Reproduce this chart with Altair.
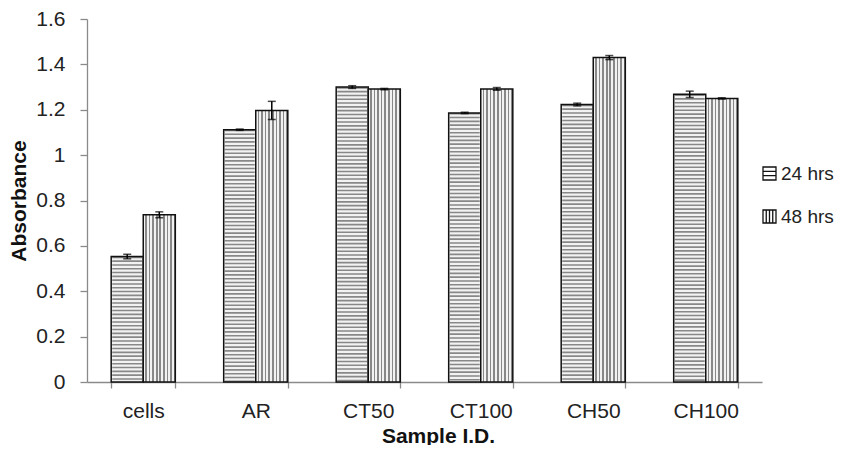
import altair as alt
import pandas as pd

samples = ["cells", "AR", "CT50", "CT100", "CH50", "CH100"]
series = ["24 hrs", "48 hrs"]
abs_24 = [0.553, 1.112, 1.300, 1.186, 1.223, 1.268]
abs_48 = [0.737, 1.197, 1.291, 1.292, 1.430, 1.250]
err_24 = [0.010, 0.003, 0.006, 0.003, 0.006, 0.014]
err_48 = [0.013, 0.040, 0.003, 0.006, 0.009, 0.003]
y_ticks = [0, 0.2, 0.4, 0.6, 0.8, 1.0, 1.2, 1.4, 1.6]

rows = []
for s, a, e in zip(samples, abs_24, err_24):
    rows.append({"sample": s, "series": series[0], "value": a, "err": e})
for s, a, e in zip(samples, abs_48, err_48):
    rows.append({"sample": s, "series": series[1], "value": a, "err": e})
df = pd.DataFrame(rows)

FONT = "Liberation Sans"
LIGHT = "#f2f2f2"
DARK = "#888888"

# vertical stripe gradient for 48 hrs bars
n = 9
stops = []
for i in range(n):
    stops += [
        alt.GradientStop(color=LIGHT, offset=i / n),
        alt.GradientStop(color=LIGHT, offset=(i + 0.55) / n),
        alt.GradientStop(color=DARK, offset=(i + 0.55) / n),
        alt.GradientStop(color=DARK, offset=(i + 1) / n),
    ]
vstripes = alt.LinearGradient(gradient="linear", stops=stops, x1=0, x2=1, y1=0, y2=0)

x_enc = alt.X(
    "sample:N",
    sort=samples,
    scale=alt.Scale(paddingInner=0.43, paddingOuter=0.215),
    axis=alt.Axis(
        title="Sample I.D.",
        labelAngle=0,
        tickBand="extent",
        tickSize=6,
        labelPadding=12,
        titlePadding=4,
        titleX=351,
    ),
)
xoff = alt.XOffset("series:N", scale=alt.Scale(domain=series))
y_enc = alt.Y(
    "value:Q",
    scale=alt.Scale(domain=[0, 1.6], nice=False),
    axis=alt.Axis(
        title="Absorbance",
        values=y_ticks,
        format=".1~f",
        tickSize=7,
        labelPadding=15,
        titlePadding=6,
        grid=False,
    ),
)

base = alt.Chart(df).encode(x=x_enc, xOffset=xoff)

b24 = base.transform_filter(alt.datum.series == "24 hrs")
b48 = base.transform_filter(alt.datum.series == "48 hrs")

bar24_fill = b24.mark_bar(fill=LIGHT, strokeWidth=0).encode(y=y_enc, y2=alt.datum(0))
bar24_stripes = b24.mark_rule(
    stroke=DARK, strokeWidth=30, strokeDash=[1.6, 2.2], strokeCap="butt"
).encode(y="value:Q", y2=alt.datum(0))
bar24_outline = b24.mark_bar(fillOpacity=0, stroke="#111", strokeWidth=1.5).encode(
    y="value:Q", y2=alt.datum(0)
)
bar48 = b48.mark_bar(fill=vstripes, stroke="#111", strokeWidth=1.5).encode(
    y="value:Q", y2=alt.datum(0)
)

err = base.transform_calculate(
    lo=alt.datum.value - alt.datum.err, hi=alt.datum.value + alt.datum.err
)
err_rule = err.mark_rule(color="black", strokeWidth=1.5).encode(y="lo:Q", y2="hi:Q")
err_lo = err.mark_tick(color="black", thickness=1.5, size=8).encode(y="lo:Q")
err_hi = err.mark_tick(color="black", thickness=1.5, size=8).encode(y="hi:Q")

hpath = "M-1,-1H1V1H-1Z M-1,-0.33H1 M-1,0.33H1"
vpath = "M-1,-1H1V1H-1Z M-0.5,-1V1 M0,-1V1 M0.5,-1V1"
legend_pts = base.mark_point(opacity=0).encode(
    y="value:Q",
    shape=alt.Shape(
        "series:N",
        scale=alt.Scale(domain=series, range=[hpath, vpath]),
        legend=alt.Legend(
            title=None,
            orient="none",
            legendX=673,
            legendY=145,
            padding=0,
            symbolSize=169,
            symbolFillColor="#e8e8e8",
            symbolStrokeColor="#111",
            symbolStrokeWidth=1.3,
            symbolOpacity=1,
            labelFontSize=19,
            labelFont=FONT,
            labelColor="#222",
            labelOffset=2,
            rowPadding=23,
        ),
    ),
)

chart = (
    alt.layer(
        bar24_fill, bar24_stripes, bar24_outline, bar48, err_rule, err_lo, err_hi, legend_pts
    )
    .properties(
        width=675,
        height=363,
        autosize=alt.AutoSizeParams(type="none"),
        padding={"left": 79, "top": 11, "right": 73, "bottom": 63},
    )
    .configure_view(stroke=None)
    .configure_axis(
        labelFont=FONT,
        titleFont=FONT,
        labelFontSize=21,
        titleFontSize=21,
        titleFontWeight="bold",
        labelColor="#222",
        titleColor="#111",
        domainColor="#8a8a8a",
        tickColor="#8a8a8a",
        domainWidth=1.3,
        tickWidth=1.3,
    )
)

chart.save("out.html", embed_options={"renderer": "svg", "actions": False})
